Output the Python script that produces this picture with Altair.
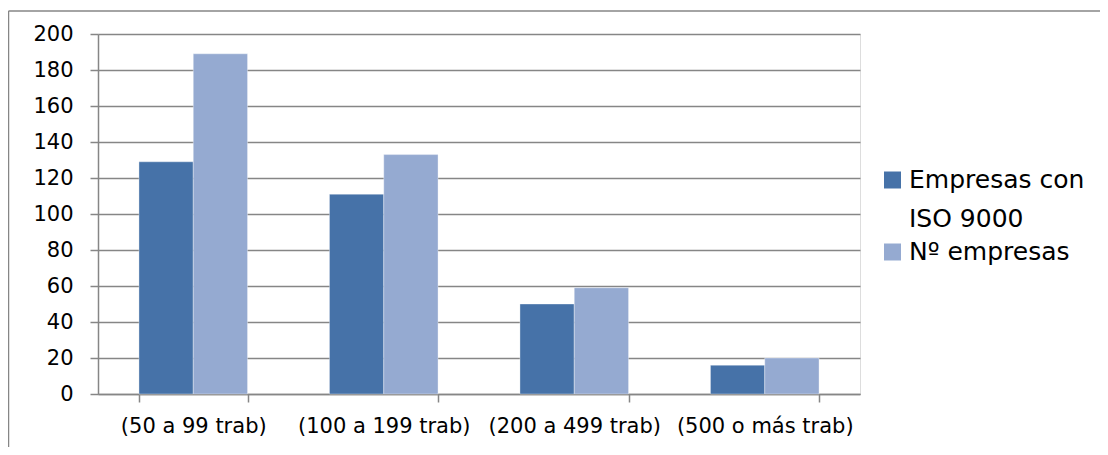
import altair as alt
import pandas as pd

categorias = ["(50 a 99 trab)", "(100 a 199 trab)", "(200 a 499 trab)", "(500 o más trab)"]
series = ["Empresas con ISO 9000", "Nº empresas"]
iso9000 = [129, 111, 50, 16]
n_empresas = [189, 133, 59, 20]
y_ticks = [0, 20, 40, 60, 80, 100, 120, 140, 160, 180, 200]
legend_text = {"Empresas con ISO 9000": "Empresas con\nISO 9000", "Nº empresas": "Nº empresas"}

rows = []
for c, a, b in zip(categorias, iso9000, n_empresas):
    rows.append({"categoria": c, "serie": series[0], "valor": a})
    rows.append({"categoria": c, "serie": series[1], "valor": b})
df = pd.DataFrame(rows)

FONT = "DejaVu Sans"
GRAY = "#868686"
color_scale = alt.Scale(domain=series, range=["#4672A8", "#95AAD1"])

base = alt.Chart(df)

bars = base.mark_bar(stroke="#ffffff", strokeWidth=1, strokeOpacity=0.35).encode(
    x=alt.X("categoria:N", sort=categorias, title=None,
            scale=alt.Scale(paddingInner=0.43, paddingOuter=0.215),
            axis=alt.Axis(labelAngle=0, tickBand="extent", tickSize=8, tickColor=GRAY,
                          tickWidth=1.5, domainWidth=1.5,
                          domainColor=GRAY, labelFont=FONT, labelFontSize=21,
                          labelColor="#000000", labelBaseline="middle", labelPadding=24,
                          grid=False)),
    xOffset=alt.XOffset("serie:N", sort=series, scale=alt.Scale(paddingInner=0, paddingOuter=0)),
    y=alt.Y("valor:Q", title=None, scale=alt.Scale(domain=[0, 200], nice=False),
            axis=alt.Axis(values=y_ticks, tickSize=8, tickColor=GRAY, domainColor=GRAY,
                          tickWidth=1.5, domainWidth=1.5,
                          gridColor=GRAY, gridWidth=1.5, labelFont=FONT, labelFontSize=21,
                          labelColor="#000000", labelPadding=17)),
    color=alt.Color("serie:N", scale=color_scale, legend=None),
)

def legend_entry(name, sy, ty):
    sub = base.transform_filter(
        (alt.datum.serie == name) & (alt.datum.categoria == categorias[0])
    ).transform_calculate(etiqueta=f"{legend_text[name]!r}")
    sq = sub.mark_point(shape="square", filled=True, size=289, opacity=1).encode(
        x=alt.value(794.5), y=alt.value(sy),
        color=alt.Color("serie:N", scale=color_scale, legend=None),
    )
    tx = sub.mark_text(align="left", baseline="alphabetic", lineBreak="\n", lineHeight=39,
                       font=FONT, fontSize=25, color="#000000").encode(
        x=alt.value(811), y=alt.value(ty), text="etiqueta:N"
    )
    return sq + tx

frame_src = alt.Chart(pd.DataFrame({"k": [0]}))
frame_top = frame_src.mark_rule(stroke=GRAY, strokeWidth=1.5).encode(
    x=alt.value(-89.5), x2=alt.value(1010), y=alt.value(-23))
frame_left = frame_src.mark_rule(stroke=GRAY, strokeWidth=1.5).encode(
    x=alt.value(-89.5), y=alt.value(-23), y2=alt.value(430))

chart = alt.layer(
    frame_top, frame_left, bars,
    legend_entry(series[0], 146, 154), legend_entry(series[1], 218, 226)
).properties(
    width=762, height=360,
    autosize=alt.AutoSizeParams(type="none"),
    padding={"left": 90, "top": 26, "right": 240, "bottom": 53},
).configure_view(strokeWidth=0).configure(background="#ffffff")

chart.save("out.html", embed_options={"renderer": "svg", "actions": False})
